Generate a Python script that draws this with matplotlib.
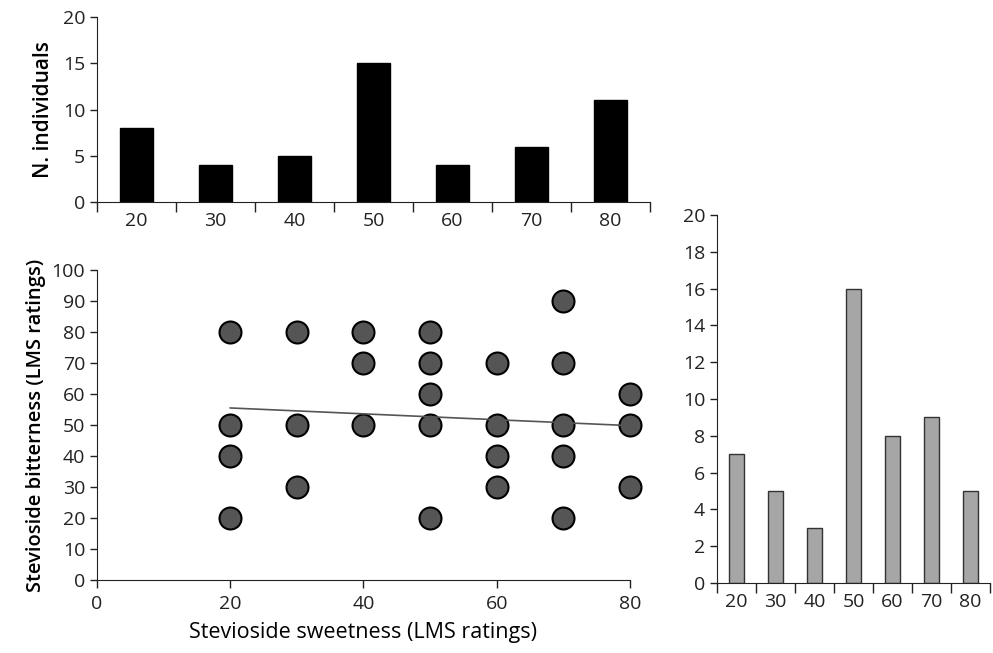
import numpy as np
import matplotlib.pyplot as plt

plt.rcParams['font.family'] = ['Open Sans', 'DejaVu Sans']

# ==============================
# Data
# ==============================

categories = ['20', '30', '40', '50', '60', '70', '80']
sweet_counts = [8, 4, 5, 15, 4, 6, 11]
bitter_counts = [7, 5, 3, 16, 8, 9, 5]

sweet_x = [20, 20, 20, 20, 30, 30, 30, 40, 40, 40, 50, 50, 50, 50, 50,
           60, 60, 60, 60, 70, 70, 70, 70, 70, 80, 80, 80]
bitter_y = [80, 50, 40, 20, 80, 50, 30, 80, 70, 50, 80, 70, 60, 50, 20,
            70, 50, 40, 30, 90, 70, 50, 40, 20, 60, 50, 30]

trend_x = [20, 80]
trend_y = [55.5, 49.8]


def style_axes(ax):
    ax.spines['top'].set_visible(False)
    ax.spines['right'].set_visible(False)
    ax.spines['left'].set_color('#222222')
    ax.spines['bottom'].set_color('#222222')
    ax.tick_params(colors='#222222', labelsize=14, width=1)


def category_axis(ax, n):
    pos = np.arange(n)
    ax.set_xlim(-0.5, n - 0.5)
    ax.set_xticks(pos)
    ax.set_xticklabels(categories)
    ax.set_xticks(np.arange(n + 1) - 0.5, minor=True)
    ax.tick_params(axis='x', which='major', length=0, pad=7)
    ax.tick_params(axis='x', which='minor', length=7, width=1, color='#222222')
    return pos


fig = plt.figure(figsize=(9.93, 6.53), dpi=100)

# ==============================
# Top histogram (sweetness)
# ==============================

ax1 = fig.add_axes([0.0977, 0.6907, 0.557, 0.283])
pos = category_axis(ax1, len(categories))
ax1.bar(pos, sweet_counts, width=0.42, color='black', edgecolor='black')
ax1.set_ylim(0, 20)
ax1.set_yticks([0, 5, 10, 15, 20])
ax1.set_ylabel('N. individuals', fontsize=15, fontweight='semibold', labelpad=6)
style_axes(ax1)
ax1.tick_params(axis='y', length=5)

# ==============================
# Scatter plot
# ==============================

ax2 = fig.add_axes([0.0977, 0.1118, 0.5367, 0.4747])
ax2.scatter(sweet_x, bitter_y, s=250, color='#555555', edgecolor='black',
            linewidth=1.5, zorder=3, clip_on=False)
ax2.plot(trend_x, trend_y, color='#555555', linewidth=1.2, zorder=4)
ax2.set_xlim(0, 80)
ax2.set_ylim(0, 100)
ax2.set_xticks([0, 20, 40, 60, 80])
ax2.set_yticks(np.arange(0, 101, 10))
ax2.set_xlabel('Stevioside sweetness (LMS ratings)', fontsize=15.5, labelpad=6)
ax2.set_ylabel('Stevioside bitterness (LMS ratings)', fontsize=14.5,
               fontweight='semibold', labelpad=4)
style_axes(ax2)
ax2.tick_params(axis='y', length=5)
ax2.tick_params(axis='x', length=6, pad=5)

# ==============================
# Right histogram (bitterness)
# ==============================

ax3 = fig.add_axes([0.722, 0.1072, 0.275, 0.5636])
pos = category_axis(ax3, len(categories))
ax3.bar(pos, bitter_counts, width=0.4, color='#a6a6a6', edgecolor='#333333',
        linewidth=1)
ax3.set_ylim(0, 20)
ax3.set_yticks(np.arange(0, 21, 2))
style_axes(ax3)
ax3.tick_params(axis='y', length=5)

fig.savefig('out.png', dpi=100)
